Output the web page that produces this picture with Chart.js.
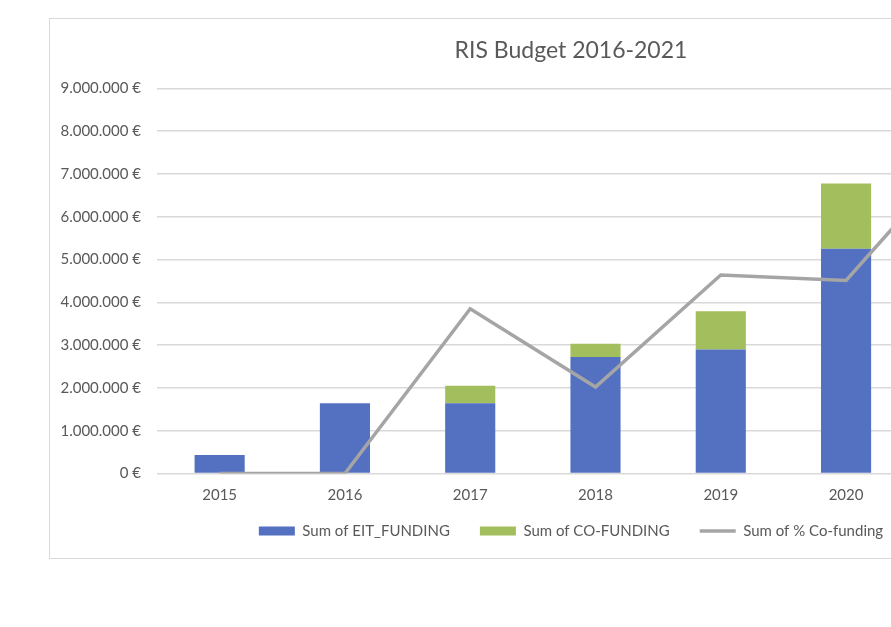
<!DOCTYPE html>
<html>
<head>
<meta charset="utf-8">
<script src="https://cdn.jsdelivr.net/npm/chart.js@4/dist/chart.umd.min.js"></script>
<style>
  html, body { margin: 0; padding: 0; background: #fff; overflow: hidden; }
  body { width: 891px; height: 627px; position: relative; }
  /* Chart frame runs past the right edge of the window, like the cropped original */
  #frame { position: absolute; left: 49px; top: 18px; width: 1044px; height: 541px;
           border: 1px solid #d9d9d9; box-sizing: border-box; background: #fff; }
</style>
</head>
<body>
<div id="frame"><canvas id="chart"></canvas></div>
<script>
const years = ['2015', '2016', '2017', '2018', '2019', '2020', '2021'];
const eitFunding = [430000, 1640000, 1640000, 2720000, 2900000, 5250000, 5600000];
const coFunding = [0, 0, 410000, 310000, 890000, 1530000, 1900000];
const coFundingPct = [0, 0, 0.385, 0.202, 0.464, 0.451, 0.78];

const TEXT = '#595959';
const GRID = '#d9d9d9';
const BLUE = '#5470c1';
const GREEN = '#a3bf5d';
const GREY = '#a5a5a5';

const euro = (v) => String(Math.round(v)).replace(/\B(?=(\d{3})+(?!\d))/g, '.') + ' €';

Chart.defaults.font.family = 'Lato, "Open Sans", sans-serif';
Chart.defaults.color = TEXT;

// Legend gap between items is wide, but it should sit close under the axis labels.
const liftLegend = {
    id: 'liftLegend',
    afterLayout(chart) {
        const lg = chart.legend;
        if (!lg) return;
        lg.top -= 9;
        lg.bottom -= 9;
    },
};

new Chart(document.getElementById('chart'), {
    type: 'bar',
    data: {
        labels: years,
        datasets: [
            { label: 'Sum of EIT_FUNDING', data: eitFunding, backgroundColor: BLUE, borderWidth: 0,
              barPercentage: 0.4, categoryPercentage: 1, stack: 'b', yAxisID: 'y', order: 1 },
            { label: 'Sum of CO-FUNDING', data: coFunding, backgroundColor: GREEN, borderWidth: 0,
              barPercentage: 0.4, categoryPercentage: 1, stack: 'b', yAxisID: 'y', order: 1 },
            { type: 'line', label: 'Sum of % Co-funding', data: coFundingPct, borderColor: GREY,
              backgroundColor: GREY, borderWidth: 3.5, pointRadius: 0, tension: 0, yAxisID: 'y2', order: 0 },
        ],
    },
    plugins: [liftLegend],
    options: {
        responsive: true, maintainAspectRatio: false, animation: false,
        layout: { padding: { left: 0, right: 0, top: 0, bottom: 0.5 } },
        plugins: {
            title: { display: true, text: 'RIS Budget 2016-2021', color: TEXT,
                     font: { size: 23, weight: 'normal' }, padding: { top: 17.4, bottom: 24.4 } },
            legend: {
                position: 'bottom',
                labels: {
                    color: TEXT, font: { size: 15 }, boxWidth: 36, boxHeight: 9, padding: 30,
                    usePointStyle: true, pointStyleWidth: 36,
                    sort: (a, b) => a.datasetIndex - b.datasetIndex,
                    generateLabels: (chart) => Chart.defaults.plugins.legend.labels.generateLabels(chart).map((it) => {
                        if (it.datasetIndex === 2) {
                            it.pointStyle = 'line'; it.lineWidth = 3.5; it.strokeStyle = GREY;
                        } else {
                            it.pointStyle = 'rect'; it.lineWidth = 0;
                        }
                        return it;
                    }),
                },
            },
            tooltip: { enabled: false },
        },
        scales: {
            x: {
                stacked: true,
                grid: { display: false, drawTicks: false },
                border: { display: false },
                ticks: { color: TEXT, font: { size: 15 }, padding: 13 },
                afterFit: (s) => { s.height = 29; },
            },
            y: {
                stacked: true, min: 0, max: 9000000,
                grid: { color: GRID, lineWidth: 1.5, drawTicks: false },
                border: { display: false },
                ticks: { stepSize: 1000000, color: TEXT, font: { size: 15 }, padding: 16, callback: (v) => euro(v) },
                afterFit: (s) => { s.width = 107; },
            },
            y2: {
                position: 'right', min: 0, max: 0.9,
                grid: { display: false, drawTicks: false },
                border: { display: false },
                ticks: { stepSize: 0.1, color: TEXT, font: { size: 15 }, padding: 10,
                         callback: (v) => Math.round(v * 100) + '%' },
                afterFit: (s) => { s.width = 58; },
            },
        },
    },
});
</script>
</body>
</html>
